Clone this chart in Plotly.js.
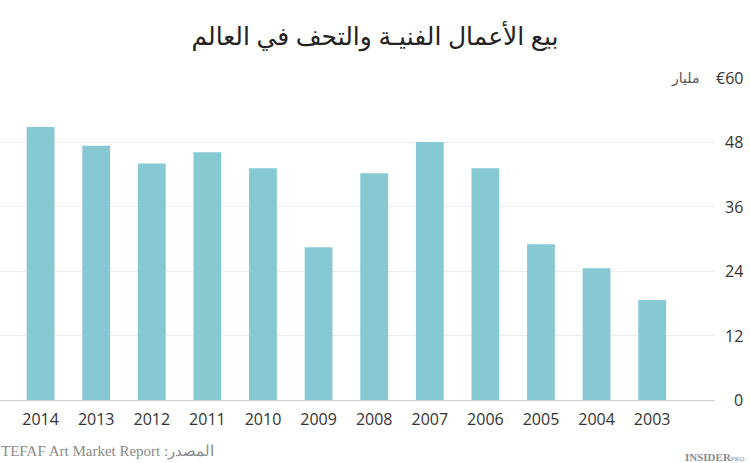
<!DOCTYPE html>
<html>
<head>
<meta charset="utf-8">
<script src="https://cdn.plot.ly/plotly-3.0.1.min.js"></script>
<style>html,body{margin:0;padding:0;background:#fff;}#chart{width:750px;height:463px;}</style>
</head>
<body>
<div id="chart"></div>
<script>
const years = ['2014','2013','2012','2011','2010','2009','2008','2007','2006','2005','2004','2003'];
const sales = [50.8, 47.3, 44.0, 46.1, 43.1, 28.4, 42.2, 48.0, 43.1, 29.0, 24.5, 18.6];
const yTicks = [0, 12, 24, 36, 48, 60];
const yTickText = ['0', '12', '24', '36', '48', '€60'];
const unitLabel = 'مليار';
const titleText = 'بيع الأعمال الفنيـة والتحف في العالم';
const sourceText = 'TEFAF Art Market Report :المصدر';

const W = 750, H = 463;
const mL = 0, mR = 35, mT = 77, mB = 63;
const plotW = W - mL - mR, plotH = H - mT - mB;
const px = x => (x - mL) / plotW;
const py = y => (H - mB - y) / plotH;

const font = 'Open Sans, Noto Sans, DejaVu Sans, sans-serif';

const annotations = yTicks.map((v, i) => ({
  xref: 'paper', yref: 'y', x: px(745), y: v, xanchor: 'right', yanchor: 'middle',
  text: yTickText[i], showarrow: false, font: {family: font, size: 16, color: '#333'}
}));
annotations.push({
  xref: 'paper', yref: 'y', x: px(701), y: yTicks[yTicks.length - 1], xanchor: 'right', yanchor: 'middle',
  text: unitLabel, showarrow: false, font: {family: 'Noto Sans, DejaVu Sans, sans-serif', size: 14, color: '#555'}
});
annotations.push({
  xref: 'paper', yref: 'paper', x: px(-1), y: py(451), xanchor: 'left', yanchor: 'middle',
  text: sourceText, showarrow: false, font: {family: 'Liberation Serif, DejaVu Serif, serif', size: 15, color: '#8a8a8a'}
});
annotations.push({
  xref: 'paper', yref: 'paper', x: px(746), y: py(457), xanchor: 'right', yanchor: 'middle',
  text: '<b>INSIDER</b><span style="font-size:7px">PRO</span>', showarrow: false,
  font: {family: 'Liberation Serif, DejaVu Serif, serif', size: 11, color: '#8a8a8a'}
});

const data = [{
  type: 'bar', x: years, y: sales,
  marker: {color: '#86c9d3', line: {width: 0}},
  hoverinfo: 'x+y'
}];

const layout = {
  width: W, height: H,
  margin: {l: mL, r: mR, t: mT, b: mB, pad: 0},
  paper_bgcolor: '#fff', plot_bgcolor: '#fff',
  title: {text: titleText, x: 0.5, xanchor: 'center', y: 1 - 36 / H, yanchor: 'middle',
    font: {family: 'Noto Sans, DejaVu Sans, sans-serif', size: 25, color: '#222'}},
  bargap: 0.5,
  showlegend: false,
  xaxis: {
    type: 'category', range: [-0.73, 12.13], fixedrange: true,
    showgrid: false, zeroline: false, showline: true, linecolor: '#d0d0d0', linewidth: 1,
    ticks: '', ticklabelstandoff: 5, tickfont: {family: font, size: 16, color: '#333'}
  },
  yaxis: {
    range: [0, 60.1], tickvals: yTicks, showticklabels: false, fixedrange: true,
    showgrid: true, gridcolor: '#ececec', gridwidth: 1, zeroline: false, showline: false, ticks: ''
  },
  shapes: [{
    type: 'rect', xref: 'paper', yref: 'y', x0: px(657), x1: 1.0, y0: 59.6, y1: 60.1,
    fillcolor: '#fff', line: {width: 0}, layer: 'above'
  }],
  annotations: annotations
};

Plotly.newPlot('chart', data, layout, {displayModeBar: false, staticPlot: true});
</script>
</body>
</html>
